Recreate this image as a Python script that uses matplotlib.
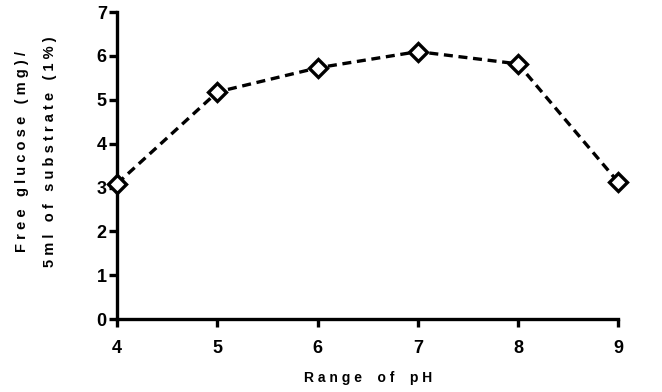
import matplotlib
matplotlib.use("Agg")
import matplotlib.pyplot as plt

ph = [4, 5, 6, 7, 8, 9]
glucose = [3.09, 5.18, 5.73, 6.10, 5.82, 3.12]
xticks = [4, 5, 6, 7, 8, 9]
yticks = [0, 1, 2, 3, 4, 5, 6, 7]


def spaced(s):
    # the original uses wide letter tracking
    return " ".join(s)


plt.rcParams['font.family'] = ['Liberation Sans', 'DejaVu Sans']
plt.rcParams['font.weight'] = 'bold'

fig = plt.figure(figsize=(6.62, 3.92), dpi=100)
ax = fig.add_axes([0.177, 0.186, 0.757, 0.783])

ax.plot(ph, glucose, color='black', linestyle=(0, (2.7, 1.7)), linewidth=2.4,
        marker='D', markersize=9, markerfacecolor='white',
        markeredgecolor='black', markeredgewidth=2.4, clip_on=False, zorder=3)

ax.set_xlim(4, 9)
ax.set_ylim(0, 7)
ax.set_xticks(xticks)
ax.set_yticks(yticks)

for side in ['top', 'right']:
    ax.spines[side].set_visible(False)
for side in ['left', 'bottom']:
    ax.spines[side].set_linewidth(2.4)

ax.tick_params(axis='both', width=2.4, length=6, labelsize=13)
ax.tick_params(axis='x', pad=9)
ax.tick_params(axis='y', pad=1.5)
for lab in ax.get_xticklabels() + ax.get_yticklabels():
    lab.set_fontweight('bold')

ax.set_xlabel(spaced("Range of pH").replace("   ", "    "), fontsize=10, fontweight='bold')
ax.xaxis.set_label_coords(0.5, -0.17)

ax.set_ylabel(spaced("Free glucose (mg)/") + "\n" + spaced("5ml of substrate (1%)"),
              fontsize=10.5, fontweight='bold', linespacing=2.3)
ax.yaxis.set_label_coords(-0.12, 0.545)

fig.savefig("out.png", dpi=100)
